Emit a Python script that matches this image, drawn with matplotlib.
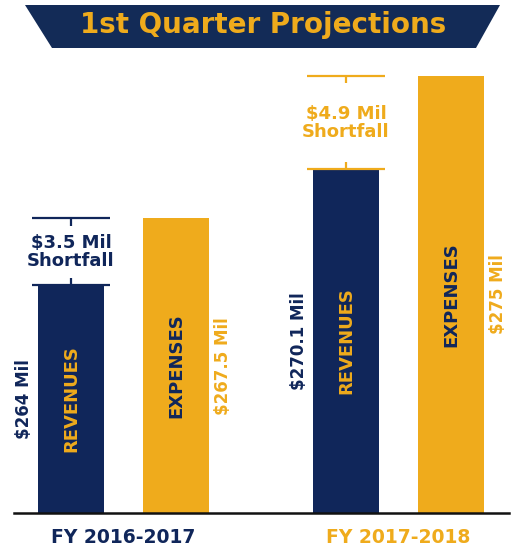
import numpy as np
import matplotlib
matplotlib.use("Agg")
import matplotlib.pyplot as plt
from matplotlib.patches import Polygon

navy = '#10265a'
gold = '#efab1c'

title = '1st Quarter Projections'
years = ['FY 2016-2017', 'FY 2017-2018']
year_colors = [navy, gold]
revenues = [264.0, 270.1]
expenses = [267.5, 275.0]
rev_labels = ['$264 Mil', '$270.1 Mil']
exp_labels = ['$267.5 Mil', '$275 Mil']
shortfall_labels = ['$3.5 Mil\nShortfall', '$4.9 Mil\nShortfall']

fig = plt.figure(figsize=(5.14, 5.52), dpi=100)

# title banner (trapezoid)
banner = Polygon([[25/514, 1-5/552], [500/514, 1-5/552], [476/514, 1-48/552], [52/514, 1-48/552]],
                 closed=True, transform=fig.transFigure, facecolor='#132b57', edgecolor='none')
fig.patches.append(banner)
fig.text(263/514, 1-25/552, title, color=gold, fontsize=20, fontweight='bold',
         ha='center', va='center')

ax = fig.add_axes([14/514, 39/552, 495/514, 453/552])
x = np.arange(len(years))
off = 0.191
w = 0.24

ax.bar(x - off, revenues, width=w, color=navy)
ax.bar(x + off, expenses, width=w, color=gold)
ax.set_ylim(252, 275.84)
ax.set_xlim(-0.398, 1.402)

for i in range(len(years)):
    r, e = revenues[i], expenses[i]
    # text inside bars
    ax.text(x[i] - off, (252 + r) / 2, 'REVENUES', rotation=90, color=gold, fontsize=13,
            fontweight='bold', ha='center', va='center')
    ax.text(x[i] + off, (252 + e) / 2, 'EXPENSES', rotation=90, color=navy, fontsize=13,
            fontweight='bold', ha='center', va='center')
    # value labels beside bars
    ax.text(x[i] - off - 0.172, (252 + r) / 2, rev_labels[i], rotation=90, color=navy,
            fontsize=12, fontweight='bold', ha='center', va='center')
    ax.text(x[i] + off + 0.172, (252 + e) / 2, exp_labels[i], rotation=90, color=gold,
            fontsize=12, fontweight='bold', ha='center', va='center')
    # shortfall bracket
    c = year_colors[i]
    cx = x[i] - off
    ax.hlines([r, e], cx - 0.142, cx + 0.142, color=c, lw=1.6)
    ax.vlines(cx, e - 0.37, e, color=c, lw=1.6)
    ax.vlines(cx, r, r + 0.37, color=c, lw=1.6)
    ax.text(cx, (r + e) / 2, shortfall_labels[i], color=c, fontsize=13, fontweight='bold',
            ha='center', va='center', linespacing=1.0)

ax.set_xticks(x)
ax.set_xticklabels(years, fontsize=13.5, fontweight='bold')
for lab, c in zip(ax.get_xticklabels(), year_colors):
    lab.set_color(c)
ax.tick_params(axis='x', length=0, pad=11)
ax.set_yticks([])
for s in ['left', 'right', 'top']:
    ax.spines[s].set_visible(False)
ax.spines['bottom'].set_linewidth(1.8)
ax.spines['bottom'].set_color('#111111')

fig.savefig('out.png', dpi=100)
